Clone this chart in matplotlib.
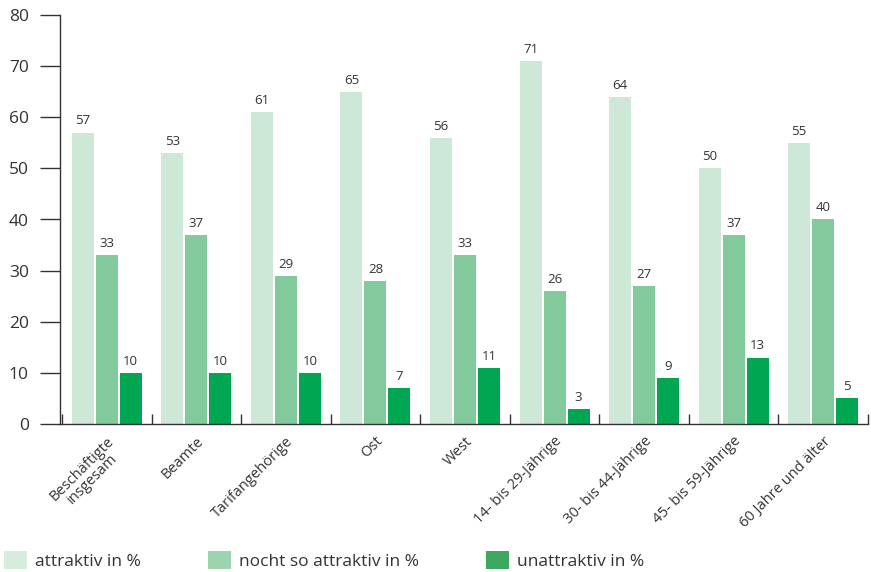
import numpy as np
import matplotlib
matplotlib.use("Agg")
from matplotlib import pyplot as plt
from matplotlib.patches import Patch

plt.rcParams["font.family"] = ["Open Sans", "DejaVu Sans"]

categories = ["Beschäftigte\ninsgesam", "Beamte", "Tarifangehörige", "Ost", "West",
              "14- bis 29-Jährige", "30- bis 44-Jährige", "45- bis 59-Jährige",
              "60 Jahre und älter"]
attraktiv = [57, 53, 61, 65, 56, 71, 64, 50, 55]
nicht_so = [33, 37, 29, 28, 33, 26, 27, 37, 40]
unattraktiv = [10, 10, 10, 7, 11, 3, 9, 13, 5]
series_names = ["attraktiv in %", "nocht so attraktiv in %", "unattraktiv in %"]

bar_colors = ["#cde8d6", "#82c99b", "#00a651"]
legend_colors = ["#d6ecdd", "#9dd3ae", "#3ea860"]
text_col = "#333333"

fig = plt.figure(figsize=(8.71, 5.72), dpi=100)
ax = fig.add_axes([60 / 871, 1 - 424 / 572, 808 / 871, 409 / 572])

centers = np.arange(len(categories)) + 0.5
w = 0.2455
step = 0.268
for k, vals in enumerate([attraktiv, nicht_so, unattraktiv]):
    xs = centers + (k - 1) * step
    ax.bar(xs, vals, width=w, color=bar_colors[k], linewidth=0)
    for x, v in zip(xs, vals):
        ax.text(x, v + 1.0, str(v), ha="center", va="bottom",
                fontsize=9.5, color=text_col)

ax.set_xlim(-0.022, 9)
ax.set_ylim(0, 80)
ax.set_yticks(range(0, 81, 10))
ax.tick_params(axis="y", direction="out", length=14.4, width=1,
               color=text_col, labelsize=12.5, labelcolor=text_col, pad=8)

ax.set_xticks(np.arange(0, 10))
ax.set_xticklabels([])
ax.tick_params(axis="x", which="major", direction="in", length=7, width=1,
               color=text_col)
ax.set_xticks(centers, minor=True)
ax.set_xticklabels(categories, minor=True, rotation=45, ha="right",
                   rotation_mode="anchor", fontsize=10.5, color=text_col,
                   multialignment="center", linespacing=0.95)
ax.tick_params(axis="x", which="minor", length=0, pad=7)

for s in ["top", "right"]:
    ax.spines[s].set_visible(False)
for s in ["left", "bottom"]:
    ax.spines[s].set_color(text_col)
    ax.spines[s].set_linewidth(1)

handles = [Patch(facecolor=c, edgecolor="none") for c in legend_colors]
fig.legend(handles, series_names, loc="lower left", bbox_to_anchor=(0.005, 0.004),
           ncol=3, frameon=False, fontsize=12.5, handlelength=1.3,
           handleheight=1.25, handletextpad=0.45, columnspacing=3.9,
           borderaxespad=0, borderpad=0, labelcolor=text_col)

fig.savefig("out.png", dpi=100)
